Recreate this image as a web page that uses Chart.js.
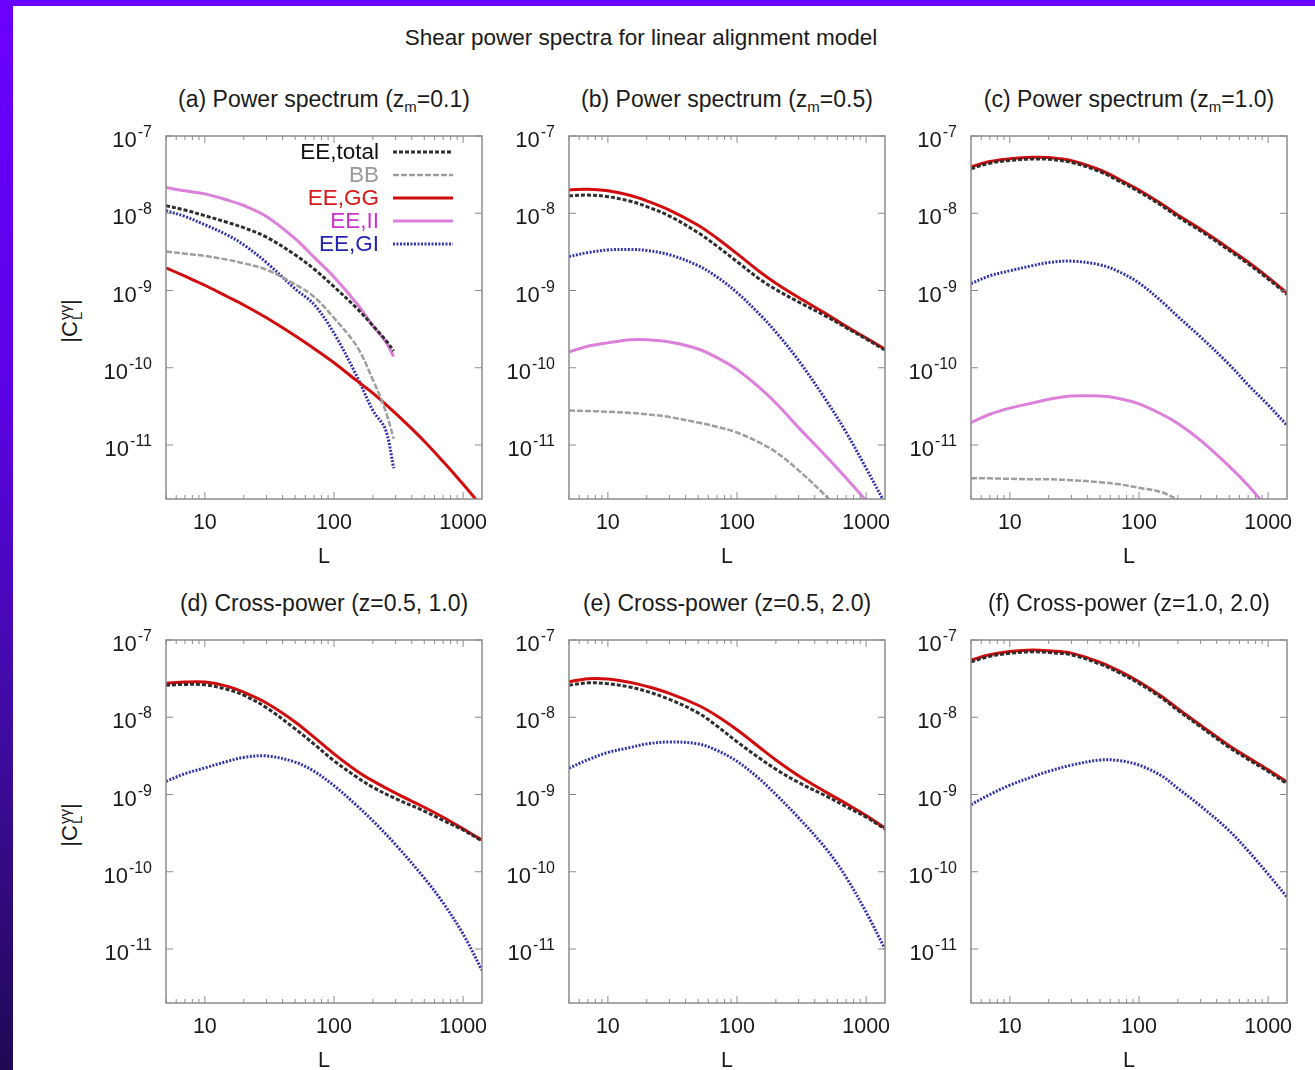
<!DOCTYPE html>
<html>
<head>
<meta charset="utf-8">
<script src="https://cdn.jsdelivr.net/npm/chart.js@4.4.1/dist/chart.umd.min.js"></script>
<style>
  html, body { margin: 0; padding: 0; }
  body {
    width: 1315px; height: 1070px; overflow: hidden; position: relative;
    background: linear-gradient(to bottom, #6a00ff 0%, #5d02e8 35%, #3d0c9e 70%, #210955 100%);
    font-family: "Liberation Sans", Arial, Helvetica, sans-serif;
    color: #1a1a1a;
  }
  #sheet { position: absolute; left: 13px; top: 6px; right: 0; bottom: 0; background: #fff; }
  .txt { position: absolute; text-align: center; white-space: nowrap; font-size: 22.5px; line-height: 26px; }
  .ptitle { font-size: 23px; }
  .txt sub { font-size: 15px; vertical-align: -5px; line-height: 0; }
  .ylab { position: absolute; font-size: 22px; white-space: nowrap; transform: translate(-50%, -50%) rotate(-90deg); }
  .ylab .ss { display: inline-block; vertical-align: middle; font-size: 15px; line-height: 12px; text-align: left; margin-left: 1px; }
  .ylab .ss span { display: block; }
  .panel { position: absolute; }
</style>
</head>
<body>
<div id="sheet"></div>
<div class="txt" style="left:241px; top:25px; width:800px;">Shear power spectra for linear alignment model</div>
<div id="overlay"></div>

<script>
// sampled multipoles
const L_FULL = [5, 7, 10, 15, 20, 30, 50, 70, 100, 150, 200, 300, 500, 700, 1000, 1400];
const L_SHORT = [5, 7, 10, 15, 20, 30, 50, 70, 100, 150, 200, 250, 290];

// (a) z_m = 0.1  (all but GG stop at L ~ 290)
const aTotal = [1.25e-8, 1.1e-8, 9.3e-9, 7.6e-9, 6.5e-9, 4.9e-9, 2.9e-9, 1.9e-9, 1.12e-9, 5.9e-10, 3.5e-10, 2.3e-10, 1.65e-10];
const aBB    = [3.2e-9, 3.0e-9, 2.8e-9, 2.5e-9, 2.25e-9, 1.86e-9, 1.2e-9, 8.3e-10, 4.4e-10, 1.9e-10, 7.0e-11, 2.8e-11, 1.2e-11];
const aGG    = [1.97e-9, 1.53e-9, 1.17e-9, 8.3e-10, 6.5e-10, 4.43e-10, 2.59e-10, 1.77e-10, 1.16e-10, 6.8e-11, 4.7e-11, 2.56e-11, 1.12e-11, 6.1e-12, 3.1e-12, 1.59e-12];
const aII    = [2.15e-8, 1.95e-8, 1.78e-8, 1.48e-8, 1.26e-8, 9.1e-9, 4.7e-9, 2.7e-9, 1.5e-9, 6.8e-10, 3.5e-10, 2.2e-10, 1.4e-10];
const aGI    = [1.08e-8, 9.1e-9, 7.1e-9, 5.2e-9, 3.9e-9, 2.3e-9, 1.05e-9, 6.6e-10, 2.8e-10, 7.8e-11, 2.8e-11, 1.6e-11, 5e-12];

// (b) z_m = 0.5
const bTotal = [1.68e-8, 1.72e-8, 1.64e-8, 1.43e-8, 1.22e-8, 9.2e-9, 5.6e-9, 3.75e-9, 2.37e-9, 1.4e-9, 1.03e-9, 7.1e-10, 4.55e-10, 3.3e-10, 2.36e-10, 1.69e-10];
const bBB    = [2.8e-11, 2.75e-11, 2.7e-11, 2.6e-11, 2.5e-11, 2.3e-11, 1.95e-11, 1.72e-11, 1.45e-11, 1.07e-11, 8.1e-12, 4.7e-12, 2.1e-12, 1.12e-12, 6e-13, 3e-13];
const bGG    = [2.0e-8, 2.05e-8, 1.95e-8, 1.7e-8, 1.45e-8, 1.1e-8, 7.0e-9, 4.75e-9, 3.0e-9, 1.75e-9, 1.24e-9, 8.1e-10, 4.9e-10, 3.43e-10, 2.43e-10, 1.74e-10];
const bII    = [1.6e-10, 1.9e-10, 2.1e-10, 2.3e-10, 2.3e-10, 2.15e-10, 1.75e-10, 1.35e-10, 9.5e-11, 5.5e-11, 3.5e-11, 1.68e-11, 6.9e-12, 3.74e-12, 1.9e-12, 9.8e-13];
const bGI    = [2.75e-9, 3.1e-9, 3.35e-9, 3.4e-9, 3.3e-9, 2.9e-9, 2.1e-9, 1.5e-9, 9.4e-10, 4.9e-10, 2.9e-10, 1.24e-10, 3.6e-11, 1.46e-11, 5.0e-12, 1.75e-12];

// (c) z_m = 1.0
const cTotal = [3.78e-8, 4.45e-8, 4.82e-8, 5.04e-8, 4.99e-8, 4.55e-8, 3.45e-8, 2.61e-8, 1.9e-8, 1.25e-8, 9.0e-9, 5.9e-9, 3.3e-9, 2.22e-9, 1.41e-9, 8.85e-10];
const cBB    = [3.7e-12, 3.7e-12, 3.65e-12, 3.6e-12, 3.6e-12, 3.5e-12, 3.3e-12, 3.1e-12, 2.8e-12, 2.45e-12, 1.95e-12, 1.4e-12, 8e-13, 5e-13, 3e-13, 2e-13];
const cGG    = [3.98e-8, 4.68e-8, 5.07e-8, 5.31e-8, 5.25e-8, 4.79e-8, 3.63e-8, 2.75e-8, 2.0e-8, 1.32e-8, 9.5e-9, 6.2e-9, 3.47e-9, 2.34e-9, 1.48e-9, 9.3e-10];
const cII    = [1.95e-11, 2.5e-11, 3.0e-11, 3.5e-11, 3.9e-11, 4.3e-11, 4.3e-11, 4.0e-11, 3.4e-11, 2.5e-11, 1.9e-11, 1.15e-11, 5.3e-12, 3.0e-12, 1.5e-12, 8e-13];
const cGI    = [1.23e-9, 1.55e-9, 1.8e-9, 2.1e-9, 2.3e-9, 2.4e-9, 2.15e-9, 1.75e-9, 1.25e-9, 7.2e-10, 4.6e-10, 2.5e-10, 1.1e-10, 6.0e-11, 3.3e-11, 1.8e-11];

// (d) z = 0.5, 1.0
const dTotal = [2.6e-8, 2.66e-8, 2.63e-8, 2.29e-8, 1.93e-8, 1.33e-8, 7.08e-9, 4.5e-9, 2.73e-9, 1.68e-9, 1.24e-9, 8.85e-10, 6.1e-10, 4.62e-10, 3.47e-10, 2.51e-10];
const dGG    = [2.75e-8, 2.85e-8, 2.85e-8, 2.51e-8, 2.11e-8, 1.53e-8, 8.7e-9, 5.53e-9, 3.36e-9, 2.02e-9, 1.5e-9, 1.04e-9, 6.84e-10, 5.07e-10, 3.59e-10, 2.57e-10];
const dGI    = [1.48e-9, 1.86e-9, 2.21e-9, 2.69e-9, 3.02e-9, 3.16e-9, 2.63e-9, 2.0e-9, 1.3e-9, 7.2e-10, 4.56e-10, 2.24e-10, 8.3e-11, 3.95e-11, 1.56e-11, 5.3e-12];

// (e) z = 0.5, 2.0
const eTotal = [2.6e-8, 2.79e-8, 2.72e-8, 2.45e-8, 2.16e-8, 1.7e-8, 1.14e-8, 7.69e-9, 4.82e-9, 2.94e-9, 2.12e-9, 1.43e-9, 9.4e-10, 6.97e-10, 5.1e-10, 3.56e-10];
const eGG    = [2.88e-8, 3.16e-8, 3.13e-8, 2.82e-8, 2.51e-8, 2.04e-8, 1.43e-8, 1.04e-8, 6.89e-9, 4.06e-9, 2.8e-9, 1.75e-9, 1.05e-9, 7.64e-10, 5.35e-10, 3.69e-10];
const eGI    = [2.19e-9, 2.82e-9, 3.5e-9, 4.07e-9, 4.52e-9, 4.79e-9, 4.52e-9, 3.72e-9, 2.69e-9, 1.58e-9, 1.0e-9, 5.0e-10, 1.9e-10, 8.5e-11, 3.0e-11, 1.0e-11];

// (f) z = 1.0, 2.0
const fTotal = [5.22e-8, 6.14e-8, 6.73e-8, 7.04e-8, 6.88e-8, 6.42e-8, 4.87e-8, 3.78e-8, 2.74e-8, 1.77e-8, 1.23e-8, 7.5e-9, 4.06e-9, 2.85e-9, 1.99e-9, 1.38e-9];
const fGG    = [5.5e-8, 6.46e-8, 7.08e-8, 7.41e-8, 7.24e-8, 6.76e-8, 5.13e-8, 3.98e-8, 2.88e-8, 1.86e-8, 1.29e-8, 7.9e-9, 4.27e-9, 3.0e-9, 2.09e-9, 1.45e-9];
const fGI    = [7.4e-10, 1.0e-9, 1.32e-9, 1.7e-9, 2.0e-9, 2.4e-9, 2.79e-9, 2.75e-9, 2.4e-9, 1.74e-9, 1.2e-9, 7.1e-10, 3.39e-10, 1.86e-10, 9.3e-11, 4.7e-11];

const X_TICKS = [10, 100, 1000];
const Y_EXPONENTS = [-7, -8, -9, -10, -11];

const FONT = '"Liberation Sans", Arial, Helvetica, sans-serif';
const PLOT_W = 316, PLOT_H = 363;
const PAD_L = 90, PAD_T = 20, PAD_R = 20, PAD_B = 80;
const COL_X = [166, 569, 971];
const ROW_Y = [136, 640];

const STYLES = {
    total: { label: 'EE,total', color: '#2e2e2e', dash: [4, 2], width: 3, text: '#111111' },
    bb:    { label: 'BB', color: '#9e9e9e', dash: [6, 2], width: 2.5, text: '#999999' },
    gg:    { label: 'EE,GG', color: '#d20c0c', dash: [], width: 3, text: '#d61818' },
    ii:    { label: 'EE,II', color: '#dc80dc', dash: [], width: 3, text: '#cc33cc' },
    gi:    { label: 'EE,GI', color: '#3434b0', dash: [2, 1.5], width: 3, text: '#2424b4' }
};

const panels = [
    { col: 0, row: 0, title: '(a) Power spectrum (z<sub>m</sub>=0.1)', ylabel: true, legend: true,
      lines: [['total', L_SHORT, aTotal], ['bb', L_SHORT, aBB], ['gg', L_FULL, aGG], ['ii', L_SHORT, aII], ['gi', L_SHORT, aGI]] },
    { col: 1, row: 0, title: '(b) Power spectrum (z<sub>m</sub>=0.5)',
      lines: [['total', L_FULL, bTotal], ['bb', L_FULL, bBB], ['gg', L_FULL, bGG], ['ii', L_FULL, bII], ['gi', L_FULL, bGI]] },
    { col: 2, row: 0, title: '(c) Power spectrum (z<sub>m</sub>=1.0)',
      lines: [['total', L_FULL, cTotal], ['bb', L_FULL, cBB], ['gg', L_FULL, cGG], ['ii', L_FULL, cII], ['gi', L_FULL, cGI]] },
    { col: 0, row: 1, title: '(d) Cross-power (z=0.5, 1.0)', ylabel: true,
      lines: [['total', L_FULL, dTotal], ['gg', L_FULL, dGG], ['gi', L_FULL, dGI]] },
    { col: 1, row: 1, title: '(e) Cross-power (z=0.5, 2.0)',
      lines: [['total', L_FULL, eTotal], ['gg', L_FULL, eGG], ['gi', L_FULL, eGI]] },
    { col: 2, row: 1, title: '(f) Cross-power (z=1.0, 2.0)',
      lines: [['total', L_FULL, fTotal], ['gg', L_FULL, fGG], ['gi', L_FULL, fGI]] }
];

// gnuplot-like frame: box, inward ticks on all sides, 10^n labels, key
const framePlugin = {
    id: 'frame',
    afterDraw(chart, args, opts) {
        const { ctx, chartArea: a, scales: { x, y } } = chart;
        ctx.save();
        ctx.strokeStyle = '#8c8c8c';
        ctx.lineWidth = 1.5;
        ctx.setLineDash([]);
        ctx.strokeRect(a.left, a.top, a.right - a.left, a.bottom - a.top);

        ctx.lineWidth = 1;
        const seg = (x1, y1, x2, y2) => { ctx.beginPath(); ctx.moveTo(x1, y1); ctx.lineTo(x2, y2); ctx.stroke(); };
        for (let d = 1; d <= 1000; d *= 10) {
            for (let m = 1; m <= 9; m++) {
                const v = d * m;
                if (v < x.min || v > x.max) continue;
                const px = x.getPixelForValue(v);
                const len = m === 1 ? 7 : 4;
                seg(px, a.bottom, px, a.bottom - len);
                seg(px, a.top, px, a.top + len);
            }
        }

        ctx.fillStyle = '#1a1a1a';
        ctx.textBaseline = 'alphabetic';
        Y_EXPONENTS.forEach(e => {
            const py = y.getPixelForValue(Math.pow(10, e));
            seg(a.left, py, a.left + 7, py);
            seg(a.right, py, a.right - 7, py);
            const exp = String(e);
            ctx.font = `16px ${FONT}`;
            const we = ctx.measureText(exp).width;
            ctx.font = `22px ${FONT}`;
            const wb = ctx.measureText('10').width;
            const right = a.left - 14;
            ctx.textAlign = 'left';
            ctx.fillText('10', right - we - wb - 1, py + 11);
            ctx.font = `16px ${FONT}`;
            ctx.fillText(exp, right - we, py + 1);
        });

        if (opts.legend) {
            ctx.font = `22.5px ${FONT}`;
            ctx.textBaseline = 'middle';
            chart.data.datasets.forEach((ds, i) => {
                const ly = a.top + 16 + i * 23;
                ctx.textAlign = 'right';
                ctx.fillStyle = ds.legendColor;
                ctx.fillText(ds.label, a.left + 213, ly + 1);
                ctx.strokeStyle = ds.borderColor;
                ctx.lineWidth = ds.borderWidth;
                ctx.setLineDash(ds.borderDash);
                seg(a.left + 227, ly, a.left + 287, ly);
            });
        }
        ctx.restore();
    }
};

const overlay = document.getElementById('overlay');

panels.forEach(p => {
    const left = COL_X[p.col], top = ROW_Y[p.row];
    const cx = left + PLOT_W / 2;

    const t = document.createElement('div');
    t.className = 'txt ptitle';
    t.style.left = (cx - 200) + 'px';
    t.style.top = (top - 50) + 'px';
    t.style.width = '400px';
    t.innerHTML = p.title;
    overlay.appendChild(t);

    if (p.ylabel) {
        const yl = document.createElement('div');
        yl.className = 'ylab';
        yl.style.left = '70px';
        yl.style.top = (top + 185) + 'px';
        yl.innerHTML = '|C<span class="ss"><span>&gamma;&gamma;</span><span>L</span></span>|';
        overlay.appendChild(yl);
    }

    const box = document.createElement('div');
    box.className = 'panel';
    box.style.left = (left - PAD_L) + 'px';
    box.style.top = (top - PAD_T) + 'px';
    const canvas = document.createElement('canvas');
    canvas.width = PLOT_W + PAD_L + PAD_R;
    canvas.height = PLOT_H + PAD_T + PAD_B;
    box.appendChild(canvas);
    overlay.appendChild(box);

    const datasets = p.lines.map(([key, Ls, vals]) => {
        const s = STYLES[key];
        return {
            label: s.label,
            data: Ls.map((L, i) => ({ x: L, y: vals[i] })),
            borderColor: s.color,
            borderDash: s.dash,
            borderWidth: s.width,
            legendColor: s.text,
            pointRadius: 0,
            fill: false,
            tension: 0.35
        };
    });

    new Chart(canvas, {
        type: 'line',
        data: { datasets },
        options: {
            responsive: false,
            animation: false,
            devicePixelRatio: 1,
            layout: { padding: { left: 0, top: PAD_T, right: PAD_R, bottom: 0 } },
            plugins: {
                legend: { display: false },
                tooltip: { enabled: false },
                frame: { legend: !!p.legend }
            },
            scales: {
                x: {
                    type: 'logarithmic',
                    min: 5,
                    max: 1400,
                    grid: { display: false, drawTicks: false },
                    border: { display: false },
                    ticks: {
                        autoSkip: false,
                        maxRotation: 0,
                        padding: 11,
                        color: '#1a1a1a',
                        font: { family: FONT, size: 21.5 },
                        callback: v => X_TICKS.includes(Math.round(v)) && Math.abs(v - Math.round(v)) < 1e-6 ? String(Math.round(v)) : ''
                    },
                    title: {
                        display: true,
                        text: 'L',
                        color: '#1a1a1a',
                        font: { family: FONT, size: 21.5 },
                        padding: { top: 0, bottom: 9 }
                    },
                    afterFit: s => { s.height = PAD_B; }
                },
                y: {
                    type: 'logarithmic',
                    min: 2e-12,
                    max: 1e-7,
                    grid: { display: false, drawTicks: false },
                    border: { display: false },
                    ticks: { display: false },
                    afterFit: s => { s.width = PAD_L; }
                }
            }
        },
        plugins: [framePlugin]
    });
});
</script>
</body>
</html>
